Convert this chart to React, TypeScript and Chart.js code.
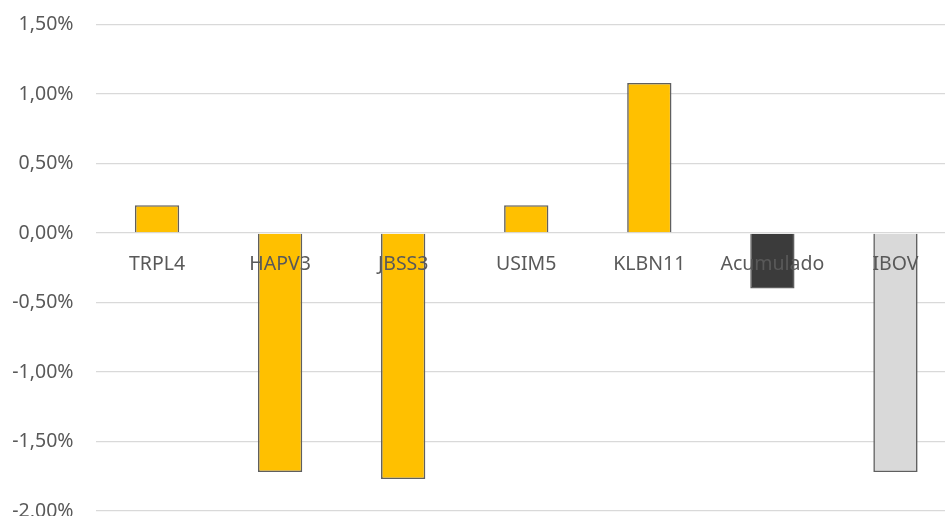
import React, { useEffect, useRef } from "react";
import { Chart, registerables } from "chart.js";

Chart.register(...registerables);

// ── Data ─────────────────────────────────────────────────────
const tickers = ["TRPL4", "HAPV3", "JBSS3", "USIM5", "KLBN11", "Acumulado", "IBOV"];
const returns = [0.2, -1.72, -1.77, 0.2, 1.08, -0.4, -1.72];

const GOLD = "#FFC000";
const DARK = "#3B3B3B";
const LIGHT = "#D9D9D9";
const TEXT = "#595959";

function barColor(label: string): string {
  if (label === "Acumulado") return DARK;
  if (label === "IBOV") return LIGHT;
  return GOLD;
}

function fmtPct(v: number): string {
  return v.toFixed(2).replace(".", ",") + "%";
}

const App: React.FC = () => {
  const ref = useRef<HTMLCanvasElement>(null);
  const chart = useRef<Chart | null>(null);

  useEffect(() => {
    document.body.style.margin = "0";
    document.body.style.overflow = "hidden";
    if (!ref.current) return;
    chart.current?.destroy();
    chart.current = new Chart(ref.current, {
      type: "bar",
      data: {
        labels: tickers,
        datasets: [{
          data: returns,
          backgroundColor: tickers.map(barColor),
          borderColor: "#5F5F5F",
          borderWidth: 1.6,
          barPercentage: 0.36,
          categoryPercentage: 1,
        }],
      },
      options: {
        responsive: true, maintainAspectRatio: false,
        animation: false,
        layout: { padding: { top: 24.5, bottom: 5, left: 0, right: 0 } },
        plugins: { legend: { display: false }, tooltip: { enabled: false } },
        scales: {
          x: {
            position: { y: 0 },
            grid: { display: false, drawTicks: false },
            border: { display: false },
            ticks: { z: 1, color: TEXT, font: { family: "Noto Sans", size: 19.5 }, padding: 20, maxRotation: 0, autoSkip: false },
            afterFit: (scale: any) => { scale.height = 0; scale.paddingLeft = 0; scale.paddingRight = 0; scale.paddingTop = 0; scale.paddingBottom = 0; },
          },
          y: {
            min: -2, max: 1.5,
            grid: { color: "#D9D9D9", lineWidth: 1.3, drawTicks: false },
            border: { display: false },
            ticks: { stepSize: 0.5, color: TEXT, font: { family: "Noto Sans", size: 19.5 }, padding: 22, callback: v => fmtPct(Number(v)) },
            afterFit: (scale: any) => { scale.width = 95.5; scale.paddingTop = 0; scale.paddingBottom = 0; },
          },
        },
      },
    });
    return () => chart.current?.destroy();
  }, []);

  return (
    <div style={{ width: 957, height: 516, position: "relative", background: "#fff" }}>
      <canvas ref={ref} />
    </div>
  );
};

export default App;
